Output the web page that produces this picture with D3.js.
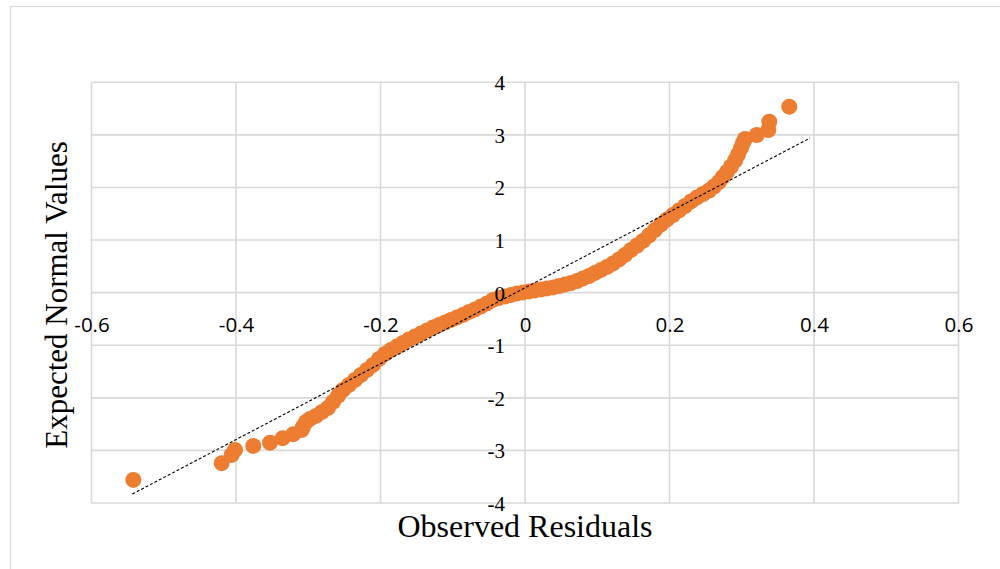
<!DOCTYPE html>
<html>
<head>
<meta charset="utf-8">
<script src="https://cdn.jsdelivr.net/npm/d3@7"></script>
<style>
  html, body { margin: 0; padding: 0; background: #fff; }
  svg { display: block; }
</style>
</head>
<body>
<svg id="chart" width="1000" height="569"></svg>
<script>
// ---- data ----
const observedResiduals = [
  -0.5421, -0.4198, -0.4060, -0.4014, -0.3761, -0.3529, -0.3354, -0.3207, -0.3091,
  -0.3073, -0.3031, -0.2976, -0.2893, -0.2810, -0.2727, -0.2657, -0.2588, -0.2519,
  -0.2436, -0.2353, -0.2270, -0.2187, -0.2104, -0.2021, -0.1938, -0.1855, -0.1772,
  -0.1689, -0.1606, -0.1522, -0.1439, -0.1356, -0.1273, -0.1190, -0.1107, -0.1024,
  -0.0941, -0.0858, -0.0775, -0.0692, -0.0609, -0.0526, -0.0443, -0.0360, -0.0277,
  -0.0194, -0.0111, -0.0028, 0.0055, 0.0138, 0.0221, 0.0304, 0.0388, 0.0471,
  0.0554, 0.0637, 0.0720, 0.0803, 0.0886, 0.0969, 0.1052, 0.1135, 0.1218,
  0.1301, 0.1384, 0.1467, 0.1550, 0.1633, 0.1716, 0.1799, 0.1882, 0.1965,
  0.2048, 0.2131, 0.2215, 0.2298, 0.2381, 0.2464, 0.2547, 0.2616, 0.2685,
  0.2740, 0.2796, 0.2851, 0.2907, 0.2948, 0.2990, 0.3017, 0.3045,
  0.3207, 0.3367, 0.3381, 0.3658
];
const expectedNormal = [
  -3.561, -3.243, -3.086, -2.990, -2.914, -2.852, -2.768, -2.692, -2.610,
  -2.553, -2.458, -2.401, -2.344, -2.268, -2.192, -2.078, -1.964, -1.850,
  -1.755, -1.660, -1.565, -1.470, -1.375, -1.260, -1.165, -1.089, -1.023,
  -0.956, -0.890, -0.833, -0.776, -0.719, -0.662, -0.614, -0.567, -0.519,
  -0.471, -0.424, -0.367, -0.319, -0.262, -0.205, -0.139, -0.101, -0.072,
  -0.044, -0.015, 0.004, 0.023, 0.042, 0.061, 0.080, 0.099, 0.127,
  0.156, 0.184, 0.222, 0.270, 0.317, 0.375, 0.432, 0.489, 0.555,
  0.631, 0.717, 0.812, 0.897, 0.983, 1.087, 1.192, 1.297, 1.392,
  1.477, 1.563, 1.648, 1.734, 1.810, 1.876, 1.943, 2.019, 2.105,
  2.200, 2.295, 2.399, 2.513, 2.627, 2.751, 2.846, 2.922,
  2.998, 3.093, 3.251, 3.536
];
const trendX = [-0.5435, 0.3945];
const trendY = [-3.83, 2.94];
const xTicks = [-0.6, -0.4, -0.2, 0, 0.2, 0.4, 0.6];
const xTickLabels = ["-0.6", "-0.4", "-0.2", "0", "0.2", "0.4", "0.6"];
const yTicks = [-4, -3, -2, -1, 0, 1, 2, 3, 4];
const yTickLabels = ["-4", "-3", "-2", "-1", "0", "1", "2", "3", "4"];
const xTitle = "Observed Residuals";
const yTitle = "Expected Normal Values";

// ---- drawing ----
const svg = d3.select("#chart");
const W = 1000, H = 569;
const plot = { left: 91.5, right: 958.5, top: 82.3, bottom: 503 };
const gridColor = "#d9d9d9";
const orange = "#ED7D31";

// outer chart border
svg.append("rect")
  .attr("x", 10.5).attr("y", 6.5)
  .attr("width", W + 20).attr("height", H + 20)
  .attr("fill", "#fff").attr("stroke", gridColor).attr("stroke-width", 1.2);

const x = d3.scaleLinear().domain([-0.6, 0.6]).range([plot.left, plot.right]);
const y = d3.scaleLinear().domain([-4, 4]).range([plot.bottom, plot.top]);

// gridlines
const grid = svg.append("g");
grid.selectAll("line.v").data(xTicks).enter().append("line")
  .attr("x1", d => x(d)).attr("x2", d => x(d))
  .attr("y1", plot.top).attr("y2", plot.bottom)
  .attr("stroke", gridColor).attr("stroke-width", 1.6);
grid.selectAll("line.h").data(yTicks).enter().append("line")
  .attr("y1", d => y(d)).attr("y2", d => y(d))
  .attr("x1", plot.left).attr("x2", plot.right)
  .attr("stroke", gridColor).attr("stroke-width", 1.6);

// points
const pts = observedResiduals.map((v, i) => ({ x: v, y: expectedNormal[i] }));
svg.append("g").selectAll("circle").data(pts).enter().append("circle")
  .attr("cx", d => x(d.x)).attr("cy", d => y(d.y)).attr("r", 8)
  .attr("fill", orange);

// trend line (dashed)
const trend = trendX.map((v, i) => ({ x: v, y: trendY[i] }));
svg.append("path")
  .datum(trend)
  .attr("d", d3.line().x(d => x(d.x)).y(d => y(d.y)))
  .attr("fill", "none").attr("stroke", "#000")
  .attr("stroke-width", 1.1).attr("stroke-dasharray", "3,2");

// x tick labels (below the y=0 axis)
const xAxis = d3.axisBottom(x).tickValues(xTicks)
  .tickFormat((d, i) => xTickLabels[i]).tickSize(0).tickPadding(0);
const gx = svg.append("g").attr("transform", `translate(0,${y(0)})`).call(xAxis);
gx.select(".domain").remove();
gx.selectAll("text")
  .attr("y", 39).attr("dy", 0)
  .attr("font-family", "'Open Sans', 'Liberation Sans', sans-serif")
  .attr("font-size", 20.5).attr("fill", "#000");

// y tick labels (left of the x=0 axis)
const yAxis = d3.axisLeft(y).tickValues(yTicks)
  .tickFormat((d, i) => yTickLabels[i]).tickSize(0).tickPadding(0);
const gy = svg.append("g").attr("transform", `translate(${x(0) - 20},0)`).call(yAxis);
gy.select(".domain").remove();
gy.selectAll("text")
  .attr("x", 0).attr("dy", "0.35em")
  .attr("font-family", "'Liberation Serif', 'DejaVu Serif', serif")
  .attr("font-size", 21).attr("fill", "#000");

// axis titles
svg.append("text")
  .attr("x", 525).attr("y", 537)
  .attr("text-anchor", "middle")
  .attr("font-family", "'Liberation Serif', serif")
  .attr("font-size", 32).attr("fill", "#000")
  .text(xTitle);

svg.append("text")
  .attr("transform", "translate(67,295) rotate(-90)")
  .attr("text-anchor", "middle")
  .attr("font-family", "'Liberation Serif', serif")
  .attr("font-size", 31).attr("fill", "#000")
  .text(yTitle);
</script>
</body>
</html>
